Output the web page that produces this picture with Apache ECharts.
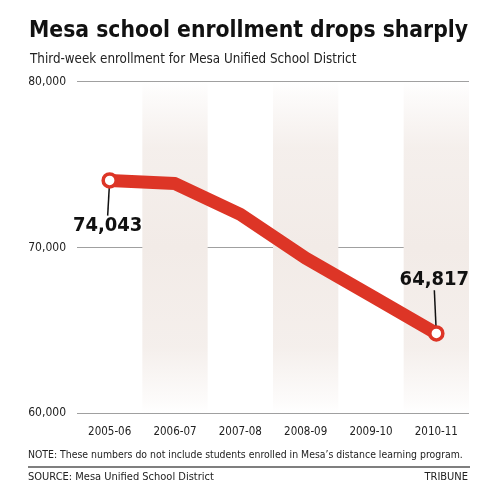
<!DOCTYPE html>
<html><head><meta charset="utf-8">
<script src="https://cdn.jsdelivr.net/npm/echarts@6/dist/echarts.min.js"></script>
<style>html,body{margin:0;padding:0;background:#fff}#c{width:500px;height:504px}</style>
</head><body><div id="c"></div>
<script>
const categories = ['2005-06','2006-07','2007-08','2008-09','2009-10','2010-11'];
const enrollment = [74043, 73850, 72000, 69350, 67100, 64817];
const labeledIndex = [0, 5];
const yTicks = [60000, 70000, 80000];

const FONT = "'Liberation Sans Narrow','DejaVu Sans Condensed','Roboto Condensed','Roboto',sans-serif";
const fmt = v => v.toLocaleString('en-US');
const bandGrad = {type:'linear',x:0,y:0,x2:0,y2:1,colorStops:[
  {offset:0,color:'rgba(242,235,231,0)'},
  {offset:0.04,color:'rgba(242,235,231,0.2)'},
  {offset:0.2,color:'rgba(242,235,231,0.8)'},
  {offset:0.5,color:'rgba(242,235,231,1)'},
  {offset:0.8,color:'rgba(242,235,231,0.8)'},
  {offset:0.96,color:'rgba(242,235,231,0.2)'},
  {offset:1,color:'rgba(242,235,231,0)'}]};

const chart = echarts.init(document.getElementById('c'), null, {renderer:'canvas'});
chart.setOption({
  backgroundColor:'#fff',
  animation:false,
  title:[
    {text:'Mesa school enrollment drops sharply',left:29,top:20,padding:0,textStyle:{fontFamily:FONT,fontSize:22.7,fontWeight:'bold',color:'#111'}},
    {text:'Third-week enrollment for Mesa Unified School District',left:30,top:53,padding:0,textStyle:{fontFamily:FONT,fontSize:13.3,fontWeight:'normal',color:'#222'}},
    {text:'NOTE: These numbers do not include students enrolled in Mesa\u2019s distance learning program.',left:28,top:450,padding:0,textStyle:{fontFamily:FONT,fontSize:10.4,fontWeight:'normal',color:'#222'}},
    {text:'SOURCE: Mesa Unified School District',left:28,top:472,padding:0,textStyle:{fontFamily:FONT,fontSize:11,fontWeight:'normal',color:'#222'}},
    {text:'TRIBUNE',right:32,top:472,padding:0,textStyle:{fontFamily:FONT,fontSize:11,fontWeight:'normal',color:'#222'}}
  ],
  graphic:[{type:'line',shape:{x1:28,y1:467,x2:470,y2:467},style:{stroke:'#555',lineWidth:1.5}}],
  grid:{left:77,right:31,top:81.6,bottom:90.7},
  xAxis:{
    type:'category',data:categories,boundaryGap:true,
    axisLine:{show:false},axisTick:{show:false},
    axisLabel:{interval:0,fontFamily:FONT,fontSize:11.5,color:'#222',margin:13},
    splitArea:{show:true,interval:0,areaStyle:{color:['rgba(0,0,0,0)',bandGrad]}}
  },
  yAxis:{
    type:'value',min:yTicks[0],max:yTicks[yTicks.length-1],interval:10000,
    axisLine:{show:false},axisTick:{show:false},
    axisLabel:{fontFamily:FONT,fontSize:12,color:'#222',margin:11,formatter:v=>fmt(v)},
    splitLine:{lineStyle:{color:'#a0a0a0',width:1.2}}
  },
  series:[{
    type:'line',
    data:enrollment.map((v,i)=>{
      const o = {value:v};
      if(labeledIndex.includes(i)){
        o.symbol='circle';o.symbolSize=13;
        o.label={show:true,position:i===0?'bottom':'top',distance:2,formatter:p=>fmt(p.value),
          fontFamily:FONT,fontSize:20,fontWeight:'bold',color:'#111'};
        o.labelLine={show:true,lineStyle:{color:'#111',width:1.5}};
      } else { o.symbol='none'; }
      return o;
    }),
    showAllSymbol:true,
    lineStyle:{color:'#dd3526',width:13,join:'round',cap:'round'},
    itemStyle:{color:'#fff',borderColor:'#dd3526',borderWidth:3.5},
    labelLayout:p=>{
      if(p.dataIndex===0) return {dx:-2,dy:25};
      if(p.dataIndex===5) return {dx:-2,dy:-33};
      return {};
    },
    z:3
  }]
});
</script></body></html>
